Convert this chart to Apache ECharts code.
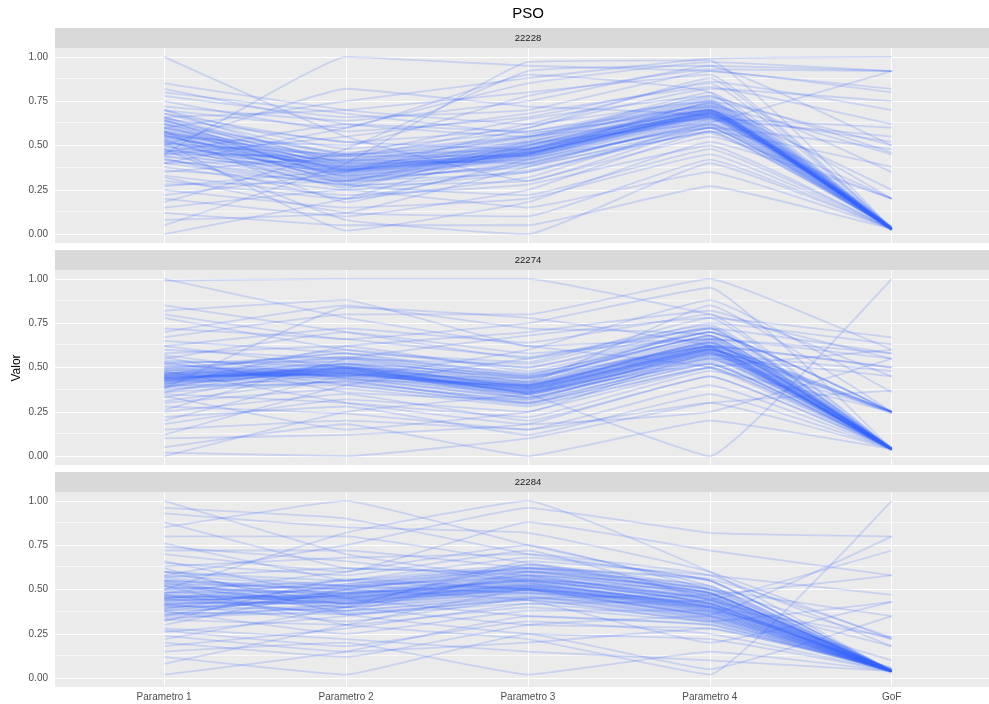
<!DOCTYPE html>
<html>
<head>
<meta charset="utf-8">
<script src="https://cdn.jsdelivr.net/npm/echarts@6.0.0/dist/echarts.min.js"></script>
<style>
  html, body { margin: 0; padding: 0; background: #fff; }
  #chart { width: 989px; height: 704px; }
</style>
</head>
<body>
<div id="chart"></div>
<script>
// 平行坐标 - PSO
const params = ["Parametro 1", "Parametro 2", "Parametro 3", "Parametro 4", "GoF"];
const facets = ["22228", "22274", "22284"];
const yTicks = [0, 0.25, 0.5, 0.75, 1];
const yMinor = [0.125, 0.375, 0.625, 0.875];

// panel 22228
const lines22228 = [
  [0.55,0.37,0.46,0.68,0.03],[0.58,0.38,0.47,0.69,0.03],[0.52,0.35,0.45,0.67,0.03],
  [0.60,0.40,0.48,0.70,0.03],[0.56,0.34,0.44,0.68,0.02],[0.50,0.36,0.47,0.69,0.03],
  [0.62,0.39,0.46,0.67,0.04],[0.54,0.33,0.43,0.66,0.03],[0.57,0.41,0.49,0.70,0.03],
  [0.48,0.37,0.46,0.68,0.03],[0.64,0.36,0.45,0.69,0.02],[0.53,0.38,0.48,0.71,0.03],
  [0.59,0.35,0.44,0.66,0.03],[0.46,0.32,0.42,0.65,0.03],[0.66,0.42,0.50,0.70,0.04],
  [0.55,0.39,0.49,0.68,0.03],[0.51,0.34,0.46,0.67,0.03],[0.61,0.37,0.47,0.69,0.03],
  [0.44,0.31,0.44,0.66,0.03],[0.58,0.43,0.51,0.71,0.03],[0.56,0.36,0.45,0.68,0.03],
  [0.49,0.40,0.48,0.69,0.02],[0.63,0.33,0.43,0.67,0.03],[0.57,0.37,0.46,0.68,0.03],
  [0.52,0.38,0.47,0.69,0.04],[0.60,0.36,0.45,0.67,0.03],[0.54,0.41,0.50,0.70,0.03],
  [0.47,0.35,0.46,0.68,0.03],
  [0.68,0.45,0.52,0.74,0.03],[0.42,0.30,0.40,0.62,0.03],[0.65,0.32,0.38,0.60,0.03],
  [0.45,0.44,0.55,0.75,0.03],[0.70,0.40,0.42,0.64,0.03],[0.40,0.28,0.48,0.72,0.03],
  [0.62,0.46,0.56,0.76,0.04],[0.50,0.27,0.36,0.58,0.03],[0.58,0.30,0.50,0.73,0.03],
  [0.47,0.42,0.40,0.63,0.03],[0.66,0.38,0.53,0.78,0.03],[0.53,0.29,0.41,0.61,0.03],
  [0.60,0.44,0.44,0.65,0.03],[0.44,0.36,0.52,0.70,0.03],[0.56,0.31,0.39,0.57,0.03],
  [0.64,0.41,0.55,0.72,0.03],[0.51,0.45,0.48,0.66,0.03],[0.48,0.33,0.45,0.74,0.03],
  [1.00,0.55,0.30,0.60,0.03],[0.85,0.70,0.62,0.75,0.50],[0.82,0.62,0.55,0.80,0.03],
  [0.78,0.66,0.70,0.92,0.80],[0.75,0.58,0.66,0.85,0.03],[0.72,0.64,0.75,0.95,0.92],
  [0.70,0.48,0.58,0.72,0.45],[0.68,0.52,0.60,0.88,0.03],[0.66,0.70,0.80,0.90,0.03],
  [0.64,0.45,0.55,0.65,0.60],[0.40,0.60,0.85,0.97,0.92],[0.42,0.28,0.30,0.55,0.20],
  [0.38,0.25,0.35,0.60,0.03],[0.35,0.45,0.65,0.78,0.35],[0.33,0.22,0.28,0.50,0.03],
  [0.30,0.20,0.40,0.62,0.20],[0.28,0.30,0.52,0.75,0.03],[0.25,0.15,0.20,0.45,0.03],
  [0.22,0.35,0.60,0.82,0.75],[0.20,0.10,0.25,0.58,0.03],[0.18,0.48,0.92,0.95,0.50],
  [0.15,0.25,0.15,0.35,0.03],[0.12,0.05,0.05,0.27,0.03],[0.08,0.12,0.38,0.64,0.55],
  [0.05,0.40,0.97,0.98,0.03],[0.00,0.20,0.50,0.70,0.03],[0.45,1.00,0.95,0.92,0.82],
  [0.50,0.82,0.72,0.66,0.03],[0.60,0.75,0.88,0.99,1.00],[0.48,0.08,0.00,0.40,0.03],
  [0.52,0.02,0.18,0.52,0.20],[0.58,0.18,0.42,0.60,0.48],[0.62,0.28,0.22,0.48,0.03],
  [0.45,0.55,0.68,0.83,0.62],[0.55,0.50,0.78,0.93,0.92],[0.40,0.42,0.54,0.73,0.03],
  [0.36,0.30,0.35,0.58,0.38],[0.57,0.44,0.62,0.86,0.70],[0.43,0.20,0.32,0.62,0.03],
  [0.65,0.52,0.48,0.74,0.20],[0.27,0.36,0.45,0.66,0.52],[0.70,0.60,0.90,0.80,0.03],
  [0.80,0.68,0.57,0.70,0.25],[0.32,0.12,0.10,0.42,0.03],[0.46,0.62,0.58,0.77,0.46],
  [0.53,0.26,0.51,0.63,0.92]
];

// panel 22274
const lines22274 = [
  [0.44,0.48,0.38,0.60,0.04],[0.43,0.47,0.37,0.59,0.04],[0.45,0.49,0.39,0.61,0.04],
  [0.42,0.46,0.36,0.58,0.04],[0.46,0.50,0.40,0.62,0.04],[0.44,0.47,0.38,0.60,0.03],
  [0.41,0.45,0.35,0.57,0.04],[0.47,0.51,0.41,0.63,0.05],[0.43,0.49,0.37,0.61,0.04],
  [0.45,0.46,0.39,0.59,0.04],[0.40,0.48,0.36,0.56,0.04],[0.48,0.52,0.42,0.64,0.04],
  [0.44,0.50,0.38,0.62,0.25],[0.42,0.47,0.35,0.58,0.25],[0.46,0.48,0.40,0.60,0.25],
  [0.44,0.46,0.37,0.59,0.04],[0.43,0.51,0.39,0.63,0.04],[0.45,0.47,0.36,0.57,0.04],
  [0.39,0.44,0.34,0.55,0.04],[0.47,0.49,0.41,0.62,0.04],[0.44,0.48,0.38,0.61,0.03],
  [0.42,0.50,0.40,0.64,0.04],[0.46,0.45,0.35,0.58,0.04],[0.43,0.48,0.38,0.60,0.24],
  [0.45,0.52,0.39,0.65,0.04],[0.41,0.47,0.37,0.59,0.04],[0.44,0.49,0.36,0.60,0.04],
  [0.47,0.46,0.39,0.61,0.05],
  [0.50,0.55,0.45,0.68,0.04],[0.38,0.42,0.30,0.52,0.04],[0.52,0.44,0.33,0.55,0.04],
  [0.36,0.52,0.42,0.66,0.04],[0.48,0.58,0.46,0.70,0.25],[0.40,0.40,0.29,0.50,0.04],
  [0.54,0.50,0.36,0.58,0.04],[0.37,0.46,0.44,0.68,0.04],[0.49,0.43,0.31,0.54,0.25],
  [0.42,0.54,0.43,0.72,0.04],[0.51,0.47,0.40,0.64,0.04],[0.39,0.49,0.33,0.56,0.04],
  [0.46,0.56,0.47,0.67,0.04],[0.43,0.41,0.32,0.53,0.04],[0.53,0.53,0.44,0.62,0.25],
  [0.41,0.50,0.41,0.65,0.04],
  [1.00,0.78,0.62,0.50,0.04],[0.99,1.00,1.00,0.80,0.55],[0.85,0.70,0.55,0.72,0.04],
  [0.82,0.88,0.62,0.66,0.58],[0.80,0.66,0.75,0.95,0.04],[0.78,0.60,0.50,0.70,0.25],
  [0.70,0.85,0.72,0.68,0.04],[0.67,0.80,0.80,1.00,0.60],[0.65,0.58,0.45,0.62,0.50],
  [0.62,0.72,0.64,0.80,0.04],[0.60,0.55,0.52,0.75,0.63],[0.58,0.62,0.48,0.70,0.25],
  [0.55,0.70,0.58,0.66,0.04],[0.53,0.40,0.30,0.55,0.45],[0.52,0.56,0.44,0.68,0.04],
  [0.50,0.45,0.60,0.88,0.36],[0.36,0.42,0.30,0.52,0.04],[0.35,0.30,0.22,0.48,0.25],
  [0.33,0.50,0.45,0.66,0.55],[0.30,0.38,0.28,0.50,0.04],[0.28,0.24,0.15,0.40,0.04],
  [0.26,0.55,0.68,0.78,0.67],[0.25,0.35,0.20,0.45,0.04],[0.22,0.28,0.12,0.35,0.04],
  [0.20,0.45,0.40,0.62,0.50],[0.18,0.32,0.25,0.58,0.04],[0.15,0.20,0.15,0.30,0.04],
  [0.12,0.40,0.55,0.72,0.58],[0.10,0.12,0.18,0.45,0.04],[0.05,0.18,0.00,0.20,0.04],
  [0.02,0.00,0.10,0.30,0.37],[0.00,0.25,0.35,0.52,0.04],[0.38,0.84,0.78,0.62,0.04],
  [0.40,0.62,0.70,0.82,0.45],[0.48,0.30,0.18,0.25,0.55],[0.56,0.36,0.32,0.60,0.25],
  [0.46,0.60,0.50,0.73,0.04],[0.34,0.15,0.25,0.50,0.60],[0.62,0.50,0.35,0.00,1.00],
  [0.72,0.66,0.56,0.74,0.04],[0.45,0.55,0.42,0.85,0.25],[0.39,0.52,0.46,0.70,0.04],
  [0.57,0.44,0.33,0.57,0.48],[0.31,0.43,0.40,0.64,0.04],[0.49,0.58,0.53,0.78,0.04]
];

// panel 22284
const lines22284 = [
  [0.44,0.45,0.52,0.40,0.04],[0.42,0.44,0.51,0.39,0.04],[0.46,0.46,0.53,0.41,0.04],
  [0.52,0.47,0.55,0.43,0.04],[0.40,0.43,0.50,0.37,0.04],[0.45,0.48,0.54,0.42,0.03],
  [0.50,0.44,0.52,0.38,0.04],[0.43,0.42,0.49,0.36,0.04],[0.48,0.49,0.56,0.45,0.05],
  [0.38,0.41,0.48,0.35,0.04],[0.54,0.50,0.57,0.44,0.04],[0.44,0.46,0.50,0.39,0.04],
  [0.47,0.43,0.53,0.40,0.04],[0.41,0.47,0.55,0.42,0.04],[0.53,0.45,0.51,0.37,0.04],
  [0.36,0.40,0.47,0.34,0.04],[0.45,0.51,0.58,0.46,0.05],[0.49,0.42,0.50,0.38,0.04],
  [0.43,0.48,0.52,0.41,0.04],[0.56,0.46,0.54,0.43,0.04],[0.39,0.44,0.49,0.36,0.03],
  [0.46,0.45,0.56,0.44,0.04],[0.44,0.47,0.51,0.40,0.05],[0.51,0.48,0.53,0.39,0.04],
  [0.42,0.43,0.50,0.37,0.04],[0.47,0.46,0.55,0.42,0.04],[0.55,0.52,0.57,0.45,0.04],
  [0.40,0.45,0.52,0.41,0.04],
  [0.58,0.52,0.60,0.48,0.04],[0.34,0.38,0.45,0.33,0.04],[0.55,0.40,0.46,0.34,0.04],
  [0.35,0.50,0.60,0.47,0.04],[0.60,0.55,0.62,0.50,0.04],[0.37,0.36,0.44,0.31,0.04],
  [0.52,0.42,0.48,0.35,0.04],[0.39,0.53,0.63,0.49,0.04],[0.57,0.48,0.58,0.47,0.05],
  [0.33,0.42,0.51,0.38,0.04],[0.50,0.55,0.64,0.51,0.04],[0.41,0.38,0.46,0.33,0.04],
  [0.53,0.51,0.59,0.46,0.04],[0.45,0.37,0.44,0.32,0.04],[0.48,0.53,0.61,0.48,0.04],
  [0.38,0.47,0.56,0.44,0.04],
  [1.00,0.70,0.55,0.45,0.04],[0.96,0.90,0.70,0.55,0.04],[0.93,0.85,0.82,0.60,0.22],
  [0.88,0.62,0.60,0.48,0.04],[0.85,1.00,0.75,0.52,0.04],[0.80,0.80,0.65,0.50,0.35],
  [0.76,0.55,0.50,0.35,0.04],[0.72,0.72,0.62,0.55,0.04],[0.70,0.60,0.88,0.72,0.58],
  [0.66,0.45,0.35,0.30,0.04],[0.63,0.68,0.70,0.58,0.18],[0.60,0.52,0.48,0.42,0.04],
  [0.58,0.75,0.96,0.82,0.80],[0.62,0.36,0.25,0.22,0.04],[0.35,0.40,0.58,0.50,0.04],
  [0.33,0.30,0.40,0.32,0.43],[0.30,0.50,0.62,0.48,0.04],[0.28,0.22,0.15,0.10,0.04],
  [0.26,0.35,0.45,0.40,0.23],[0.24,0.15,0.20,0.28,0.04],[0.22,0.40,0.66,0.58,0.47],
  [0.20,0.12,0.30,0.35,0.04],[0.18,0.28,0.42,0.44,0.72],[0.15,0.20,0.02,0.15,0.04],
  [0.12,0.02,0.25,0.05,0.35],[0.08,0.30,0.50,0.40,0.04],[0.02,0.15,0.35,0.30,0.04],
  [0.50,0.82,1.00,0.60,0.04],[0.48,0.60,0.75,0.50,0.22],[0.52,0.30,0.22,0.02,1.00],
  [0.45,0.55,0.68,0.55,0.04],[0.38,0.25,0.38,0.38,0.10],[0.57,0.62,0.58,0.42,0.04],
  [0.42,0.32,0.45,0.47,0.58],[0.54,0.38,0.60,0.52,0.04],[0.65,0.58,0.72,0.44,0.18],
  [0.36,0.48,0.55,0.48,0.04],[0.47,0.36,0.42,0.32,0.04],[0.32,0.56,0.50,0.36,0.80],
  [0.27,0.18,0.32,0.25,0.04],[0.74,0.66,0.54,0.40,0.04],[0.55,0.50,0.44,0.20,0.43],
  [0.41,0.52,0.62,0.56,0.23],[0.60,0.42,0.64,0.46,0.04],[0.46,0.40,0.30,0.28,0.06]
];

const panelLines = [lines22228, lines22274, lines22284];

const panelTops = [48, 270, 492];
const panelHeight = 195;
const font = "Liberation Sans, Arial, sans-serif";

const chart = echarts.init(document.getElementById('chart'));

const grids = [], xAxes = [], yAxes = [], series = [], graphics = [];

panelTops.forEach((top, i) => {
  const isLast = i === panelTops.length - 1;
  grids.push({
    left: 55, right: 0, top: top, height: panelHeight,
    show: true, backgroundColor: '#EBEBEB', borderWidth: 0
  });
  xAxes.push({
    type: 'value', gridIndex: i, min: -0.6, max: 4.535,
    axisLine: {show: false},
    splitLine: {show: false},
    axisTick: {show: isLast, length: 3, lineStyle: {color: '#333333'}, customValues: [0, 1, 2, 3, 4]},
    axisLabel: {
      show: isLast, customValues: [0, 1, 2, 3, 4], margin: 5,
      fontSize: 10, color: '#4D4D4D', fontFamily: font,
      formatter: v => params[Math.round(v)]
    }
  });
  yAxes.push({
    type: 'value', gridIndex: i, min: -0.05, max: 1.05,
    axisLine: {show: false},
    splitLine: {show: false},
    axisTick: {show: true, length: 3, lineStyle: {color: '#333333'}, customValues: yTicks},
    axisLabel: {
      customValues: yTicks, margin: 7,
      fontSize: 10, color: '#4D4D4D', fontFamily: font,
      formatter: v => v.toFixed(2)
    }
  });

  // 网格线
  const gridLines = [];
  yMinor.forEach(v => gridLines.push({yAxis: v, lineStyle: {width: 0.6}}));
  yTicks.forEach(v => gridLines.push({yAxis: v, lineStyle: {width: 1.1}}));
  params.forEach((p, k) => gridLines.push({xAxis: k, lineStyle: {width: 1.1}}));
  series.push({
    type: 'line', xAxisIndex: i, yAxisIndex: i, data: [], z: 1, silent: true,
    markLine: {
      silent: true, symbol: ['none', 'none'], animation: false, z: 1,
      label: {show: false},
      lineStyle: {color: '#FFFFFF', type: 'solid'},
      data: gridLines
    }
  });

  panelLines[i].forEach(vals => {
    series.push({
      type: 'line', xAxisIndex: i, yAxisIndex: i, z: 2,
      data: vals.map((v, k) => [k, v]),
      showSymbol: false, smooth: 0.1, silent: true, animation: false,
      lineStyle: {color: '#3366FF', width: 1.8, opacity: 0.19}
    });
  });

  // 分面标签
  graphics.push({
    type: 'rect', shape: {x: 55, y: top - 20, width: 934, height: 20},
    style: {fill: '#D9D9D9'}, silent: true
  });
  graphics.push({
    type: 'text', x: 528, y: top - 10,
    style: {text: facets[i], fill: '#1A1A1A', fontSize: 9.5, fontFamily: font, align: 'center', verticalAlign: 'middle'}
  });
});

graphics.push({
  type: 'text', x: 528, y: 14,
  style: {text: 'PSO', fill: '#000000', fontSize: 15, fontFamily: font, align: 'center', verticalAlign: 'middle'}
});
graphics.push({
  type: 'text', x: 17, y: 368, rotation: Math.PI / 2,
  style: {text: 'Valor', fill: '#000000', fontSize: 12, fontFamily: font, align: 'center', verticalAlign: 'middle'}
});

chart.setOption({
  animation: false,
  backgroundColor: '#FFFFFF',
  grid: grids,
  xAxis: xAxes,
  yAxis: yAxes,
  series: series,
  graphic: graphics
});
</script>
</body>
</html>
